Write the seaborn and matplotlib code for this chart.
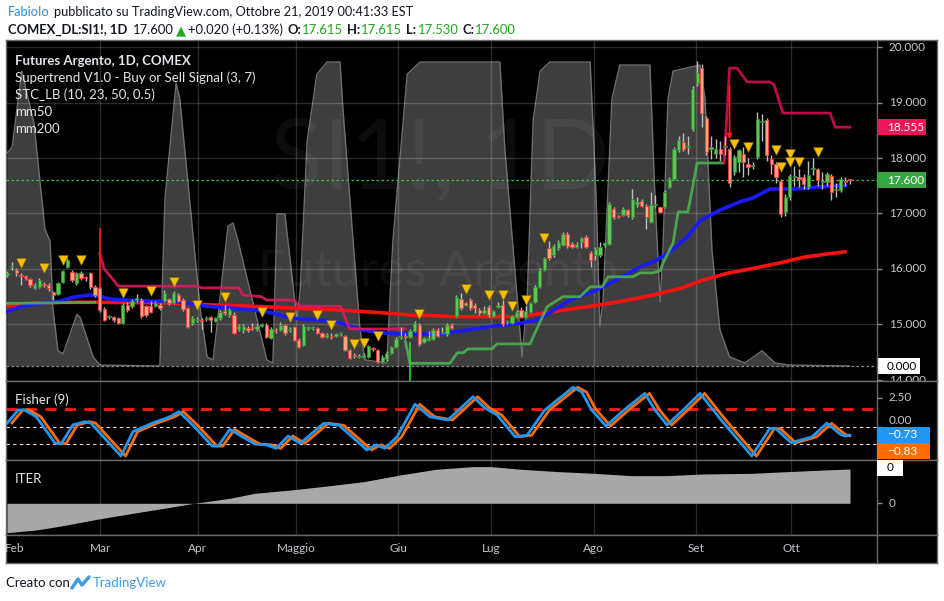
import numpy as np
import matplotlib
matplotlib.use("Agg")
import matplotlib.pyplot as plt
from matplotlib.patches import Rectangle
import seaborn as sns

# ---------------------------------------------------------------------------
# DATA  (SI1! daily, 31 Jan - 21 Oct 2019)
# ---------------------------------------------------------------------------
opens = [15.89, 16.03, 15.99, 15.89, 15.87, 15.82, 15.66, 15.68, 15.72, 15.71, 15.59, 15.55, 15.77, 16.03, 15.95,
         15.75, 15.92, 15.85, 15.92, 15.68, 15.65, 15.28, 15.13, 15.14, 15.12, 15.03, 15.35, 15.33, 15.45, 15.44,
         15.33, 15.33, 15.33, 15.35, 15.42, 15.46, 15.39, 15.53, 15.45, 15.30, 15.02, 15.08, 15.09, 15.10, 15.13,
         15.07, 15.11, 15.25, 15.17,
         15.18, 14.91, 14.90, 14.94, 14.94, 14.91, 14.98, 14.99, 14.76, 14.89, 14.90, 14.99, 14.90, 14.96, 14.72,
         14.63, 14.93, 14.93, 14.93, 14.85, 14.78, 14.80, 14.80, 14.82, 14.79, 14.54, 14.44, 14.42, 14.42, 14.42,
         14.56, 14.54, 14.33, 14.37, 14.48, 14.59, 14.77, 14.79, 14.77, 14.89, 15.00, 14.68, 14.72, 14.74, 14.90,
         14.84, 14.83,
         14.99, 15.15, 15.46, 15.37, 15.44, 15.35, 15.27, 15.21, 15.32, 15.16, 15.32, 15.36, 15.04, 15.03, 15.14,
         15.26, 15.13, 15.23, 15.41, 15.68, 15.99, 16.37, 16.25, 16.37, 16.43, 16.63, 16.45, 16.40, 16.49, 16.58,
         16.28, 16.26, 16.26, 16.44, 16.45, 17.09, 16.95, 16.97, 17.06, 16.94, 17.18, 17.23, 17.14, 16.85, 17.15,
         17.11, 17.12, 17.48,
         17.63, 18.14, 18.29, 18.19, 18.52, 19.35, 19.63, 18.72, 18.16, 18.08, 18.16, 18.19, 18.16, 17.74, 17.92,
         18.08, 17.89, 17.86, 18.02, 18.64, 18.68, 17.98, 17.89, 17.59, 17.03, 17.30, 17.66, 17.64, 17.65, 17.48,
         17.80, 17.80, 17.56, 17.57, 17.68, 17.42, 17.42, 17.58, 17.615]
highs = [15.97, 16.12, 16.02, 15.93, 15.90, 15.84, 15.74, 15.84, 15.76, 15.74, 15.61, 15.76, 15.99, 16.20, 15.99,
         15.95, 15.96, 15.88, 15.94, 15.72, 15.68, 15.31, 15.18, 15.16, 15.14, 15.38, 15.40, 15.46, 15.55, 15.48,
         15.36, 15.42, 15.42, 15.38, 15.62, 15.48, 15.60, 15.56, 15.47, 15.32, 15.15, 15.14, 15.12, 15.15, 15.16,
         15.13, 15.26, 15.35, 15.29,
         15.22, 15.00, 15.00, 14.97, 15.02, 15.00, 15.03, 15.02, 14.95, 14.93, 15.05, 15.01, 14.96, 14.98, 14.75,
         15.00, 14.97, 14.97, 14.95, 14.87, 14.84, 14.84, 14.85, 14.87, 14.81, 14.56, 14.48, 14.46, 14.49, 14.63,
         14.59, 14.56, 14.45, 14.52, 14.62, 14.78, 14.95, 14.85, 14.92, 15.06, 15.03, 14.78, 14.88, 14.93, 14.93,
         14.96, 15.02,
         15.02, 15.53, 15.57, 15.40, 15.47, 15.38, 15.30, 15.33, 15.35, 15.27, 15.40, 15.45, 15.08, 15.18, 15.27,
         15.31, 15.34, 15.41, 15.71, 16.01, 16.22, 16.50, 16.45, 16.52, 16.66, 16.66, 16.48, 16.48, 16.58, 16.62,
         16.33, 16.40, 16.48, 16.48, 17.21, 17.12, 16.98, 17.11, 17.09, 17.45, 17.30, 17.26, 17.17, 17.38, 17.33,
         17.14, 17.42, 17.66,
         18.20, 18.40, 18.45, 18.40, 19.30, 19.74, 19.70, 18.76, 18.40, 18.35, 18.30, 18.40, 18.20, 18.05, 18.17,
         18.20, 18.00, 17.92, 18.83, 18.80, 18.72, 18.05, 17.92, 17.63, 17.35, 17.72, 17.85, 17.80, 17.72, 17.95,
         18.00, 17.82, 17.75, 17.75, 17.72, 17.55, 17.65, 17.65, 17.615]
lows = [15.85, 15.98, 15.88, 15.71, 15.80, 15.68, 15.64, 15.66, 15.68, 15.60, 15.44, 15.53, 15.75, 16.01, 15.76,
        15.72, 15.80, 15.79, 15.64, 15.50, 15.22, 15.06, 15.10, 15.05, 15.00, 15.01, 15.23, 15.30, 15.41, 15.12,
        15.14, 15.20, 15.31, 15.27, 15.40, 15.36, 15.37, 15.40, 15.25, 14.93, 14.99, 15.04, 14.92, 15.07, 14.87,
        15.05, 15.09, 15.18, 15.14,
        14.83, 14.88, 14.85, 14.87, 14.90, 14.89, 14.95, 14.75, 14.74, 14.85, 14.88, 14.81, 14.86, 14.70, 14.58,
        14.61, 14.90, 14.90, 14.83, 14.75, 14.76, 14.74, 14.78, 14.80, 14.52, 14.37, 14.40, 14.39, 14.40, 14.40,
        14.52, 14.31, 14.31, 14.35, 14.46, 14.57, 14.74, 14.73, 14.75, 14.87, 14.62, 14.66, 14.70, 14.72, 14.77,
        14.82, 14.80,
        14.91, 15.13, 15.26, 15.33, 15.26, 15.20, 15.18, 15.19, 15.14, 15.14, 15.29, 14.98, 15.01, 15.01, 15.12,
        15.12, 15.11, 15.21, 15.39, 15.66, 15.97, 16.16, 16.22, 16.35, 16.41, 16.38, 16.37, 16.38, 16.38, 16.37,
        16.03, 16.17, 16.22, 16.40, 16.43, 16.90, 16.91, 16.95, 16.94, 16.90, 17.12, 17.11, 16.72, 16.82, 17.12,
        17.00, 17.10, 17.46,
        17.60, 18.10, 18.12, 18.08, 18.48, 19.30, 18.55, 18.06, 17.98, 18.00, 17.95, 18.05, 17.48, 17.70, 17.75,
        17.65, 17.70, 17.80, 17.98, 18.30, 17.95, 17.72, 17.55, 16.94, 16.95, 17.25, 17.50, 17.48, 17.45, 17.45,
        17.70, 17.50, 17.45, 17.50, 17.25, 17.30, 17.38, 17.50, 17.53]
closes = [15.92, 16.06, 15.92, 15.87, 15.83, 15.71, 15.71, 15.81, 15.71, 15.65, 15.53, 15.74, 15.96, 16.17, 15.80,
          15.92, 15.83, 15.84, 15.67, 15.54, 15.26, 15.09, 15.15, 15.08, 15.02, 15.35, 15.26, 15.43, 15.47, 15.15,
          15.17, 15.23, 15.39, 15.30, 15.56, 15.39, 15.57, 15.42, 15.28, 14.96, 15.12, 15.08, 15.07, 15.10, 15.08,
          15.11, 15.23, 15.21, 15.26,
          14.85, 14.97, 14.97, 14.90, 14.93, 14.97, 14.99, 14.78, 14.92, 14.88, 15.00, 14.84, 14.90, 14.72, 14.60,
          14.97, 14.93, 14.94, 14.85, 14.77, 14.81, 14.78, 14.82, 14.84, 14.54, 14.39, 14.43, 14.43, 14.45, 14.61,
          14.55, 14.33, 14.42, 14.49, 14.59, 14.74, 14.78, 14.77, 14.89, 15.02, 14.65, 14.75, 14.76, 14.90, 14.79,
          14.87, 14.99,
          14.94, 15.50, 15.29, 15.36, 15.29, 15.29, 15.20, 15.26, 15.17, 15.24, 15.36, 15.01, 15.04, 15.15, 15.23,
          15.14, 15.24, 15.38, 15.68, 15.98, 16.19, 16.19, 16.41, 16.49, 16.63, 16.41, 16.39, 16.45, 16.55, 16.40,
          16.17, 16.36, 16.39, 16.45, 17.18, 16.94, 16.94, 17.08, 16.97, 17.27, 17.18, 17.14, 16.93, 17.15, 17.16,
          17.03, 17.39, 17.63,
          18.16, 18.32, 18.16, 18.19, 19.24, 19.54, 18.81, 18.11, 18.20, 18.17, 18.08, 18.19, 17.55, 18.01, 18.14,
          17.92, 17.83, 17.86, 18.70, 18.64, 18.05, 17.90, 17.65, 16.99, 17.30, 17.68, 17.66, 17.63, 17.54, 17.69,
          17.80, 17.60, 17.56, 17.71, 17.38, 17.42, 17.62, 17.57, 17.60]

# moving averages (bar index, price)
mm50_x = [0, 2.8, 7.1, 11.4, 14.2, 17.9, 20.1, 22.2, 25.9, 30.9, 35.8, 38.9, 43.2, 48.8, 53.1, 56.1, 61.7, 67.6,
          71.9, 76.2, 80.5, 84.8, 89.2, 95.6, 100, 104.9, 110.7, 114.4, 117.9, 121.6, 126.5, 130.8, 136.7, 139.5,
          142.5, 146.8, 149.6, 153.9, 158.2, 161, 164.7, 168.4, 171.8, 175.5, 179.8, 181]
mm50_y = [15.23, 15.32, 15.38, 15.42, 15.49, 15.53, 15.51, 15.46, 15.44, 15.42, 15.42, 15.38, 15.33, 15.29, 15.26,
          15.23, 15.11, 15.08, 15.03, 14.91, 14.85, 14.83, 14.82, 14.85, 14.91, 14.97, 15.02, 15.08, 15.25, 15.44,
          15.59, 15.77, 16.04, 16.13, 16.27, 16.57, 16.87, 17.06, 17.21, 17.28, 17.44, 17.44, 17.45, 17.48, 17.50,
          17.50]
mm200_x = [0, 5.6, 11.5, 20.1, 34.5, 41.7, 52.5, 63.3, 71.9, 81.2, 88.5, 89.2, 96.3, 110.7, 117.9, 125.2, 132.3,
           139.5, 145.3, 150.3, 155.4, 161.1, 166.9, 171.9, 177, 181]
mm200_y = [15.33, 15.38, 15.40, 15.40, 15.39, 15.36, 15.33, 15.29, 15.26, 15.21, 15.16, 15.17, 15.14, 15.14,
           15.23, 15.32, 15.41, 15.53, 15.65, 15.80, 15.92, 16.01, 16.11, 16.21, 16.27, 16.31]

# supertrend segments (bar index, price)
st_up1_x = [0, 19]
st_up1_y = [15.38, 15.40]
st_dn1_x = [20, 21, 23, 24, 41, 42, 50, 51, 55, 56, 62, 63, 72, 74, 86]
st_dn1_y = [16.28, 16.00, 15.80, 15.69, 15.69, 15.66, 15.66, 15.53, 15.50, 15.44, 15.44, 15.33, 15.33, 14.92, 14.92]
st_up2_x = [86, 87, 95.6, 97.2, 98.5, 99.5, 104.7, 105.8, 112.9, 116.6, 120, 123.7, 125.9, 128.5, 129.8, 135.1,
            136.7, 139.5, 141, 141.6, 143.8, 144.9, 147, 149, 154.8]
st_up2_y = [14.70, 14.30, 14.30, 14.49, 14.49, 14.56, 14.56, 14.65, 14.65, 15.32, 15.50, 15.50, 15.68, 15.68, 15.86,
            15.86, 15.93, 15.93, 15.97, 16.10, 16.47, 17.03, 17.03, 17.91, 17.91]
st_dn2_x = [154.8, 156, 157.6, 159.8, 164.7, 165.6, 167.5, 177.7, 178.8, 182]
st_dn2_y = [17.91, 19.62, 19.62, 19.37, 19.37, 19.32, 18.81, 18.81, 18.555, 18.555]

# signal triangles (bar index, price)
sig_x = [3, 8, 12, 16, 25, 31, 36, 41, 47, 55, 61, 67, 70, 75, 77, 80, 89, 99, 104, 107, 109, 112, 116,
         157, 160, 166, 167, 169, 169, 171, 175]
sig_y = [16.05, 15.95, 16.10, 16.10, 15.50, 15.54, 15.71, 15.30, 15.43, 15.17, 15.08, 15.11, 14.93, 14.59, 14.61,
         14.73, 15.13, 15.58, 15.47, 15.48, 15.27, 15.39, 16.49, 18.19, 18.14, 18.08, 17.78, 18.01, 17.86, 17.87,
         18.05]

# STC_LB oscillator (bar index, 0-100)
stc_x = [0, 1.1, 3.2, 5.8, 8.2, 9.3, 9.9, 11, 12.1, 15.1, 15.8, 18.6, 20.1, 33, 34.1, 36.5, 37.3, 41.7, 43.2,
         44.5, 47.7, 48.8, 49.9, 56.1, 57.4, 58.3, 60, 62.6, 63.3, 64.8, 66.9, 69.1, 71.9, 72.5, 76.2, 77.3, 82,
         83.3, 86.4, 89.2, 106.4, 107.5, 111.2, 112.3, 113.6, 115.1, 117.2, 125.9, 127.2, 128, 128.7, 130.6,
         132.3, 138.8, 139.9, 141, 141.6, 142.7, 143.8, 149.6, 150.7, 152.2, 153.9, 156, 159.3, 163, 165.8, 169,
         182]
stc_v = [70, 72, 97, 80, 45, 41, 19, 5, 4, 17, 16, 3, 0.3, 0, 55, 93, 88, 19, 3, 2, 46, 47, 41, 2, 1, 50, 50, 15,
         25, 74, 96, 100, 100, 85, 12, 2, 1, 41, 96, 100, 100, 71, 3, 22, 81, 97, 100, 100, 55, 13, 22, 88, 99, 99,
         55, 21, 38, 88, 97, 99, 88, 38, 12, 3, 1, 5, 1, 0.3, 0]

# Fisher (9): fisher line vertices (bar index, value); trigger is fisher one bar later
fish_x = [0, 2.4, 3.7, 6.3, 10.4, 11.7, 14.2, 16.8, 18.1, 24.6, 27.2, 31.3, 35.2, 37.1, 40.4, 44.3, 45.6, 48.1,
          53.5, 56.1, 58.1, 60.7, 63.3, 68.4, 71.7, 77.7, 79.7, 81.6, 84.2, 88.1, 91.3, 95.2, 100.6, 103.2, 105.8,
          109.7, 112.3, 116.1, 122.2, 124.1, 126.1, 129.3, 133.2, 137.7, 139.9, 142.5, 146.4, 149.6, 154.1,
          160.8, 164.7, 166, 169.3, 173.8, 177, 180, 181, 182]
fish_v = [0.28, 1.43, 1.45, 0.85, -1.46, -1.50, 0.13, 0.42, 0.30, -2.57, -0.45, 0.28, 0.85, 1.29, 0.0, -1.70,
          -1.70, -0.25, -1.52, -1.60, -1.90, -0.83, -1.46, 0.28, 0.10, -2.04, -1.60, -1.90, -0.90, 1.93, 0.85, 0.57,
          2.59, 1.60, 1.00, -0.89, -0.75, 1.43, 3.41, 3.00, 1.50, 0.04, 1.43, 2.88, 1.43, 0.13, 1.60, 2.88, 0.60,
          -2.57, -0.16, -0.20, -1.41, -0.90, 0.28, -0.70, -0.83, -0.73]

# ITER histogram (bar index, value)
iter_x = [0, 6.3, 11.7, 19.4, 27.2, 33.9, 40.4, 48.1, 53.5, 61.3, 69.1, 77.1, 84.8, 92.6, 100.6, 104.5, 111, 119,
          126.7, 134.5, 142.5, 150.3, 160.8, 168.6, 176.4, 182]
iter_v = [-29.4, -26.7, -22.7, -16, -10, -5, 0, 5, 10, 13.3, 17.3, 21.7, 28.3, 34, 36.7, 36.7, 34, 31.7, 30, 27.7,
          27.7, 29.3, 30, 31.7, 33.3, 34.3]

month_names = ["Feb", "Mar", "Apr", "Maggio", "Giu", "Lug", "Ago", "Set", "Ott"]
month_pos = [1.7, 20.1, 41.2, 62.4, 84.4, 104.5, 126.7, 148.7, 169.3]
price_ticks = [14, 15, 16, 17, 18, 19, 20]

# ---------------------------------------------------------------------------
# LAYOUT HELPERS (pixel geometry of the screenshot)
# ---------------------------------------------------------------------------
W, H = 945, 601
SP = 4.632                     # px per bar


def bx(px):
    return (px - 7) / SP


def rect(x0, y0, x1, y1):
    return [x0 / W, 1 - y1 / H, (x1 - x0) / W, (y1 - y0) / H]


XMIN, XMAX, XSEP = bx(6), bx(937), bx(877)
FONT = ["Lato", "DejaVu Sans"]
AXC = "#c3c6cc"
BORDER = "#6a6a6a"

sns.set_theme(style="dark")
plt.rcParams["font.family"] = FONT

fig = plt.figure(figsize=(W / 100, H / 100), dpi=100, facecolor="white")

ax_stc = fig.add_axes(rect(6, 40, 937, 381))
ax_main = fig.add_axes(rect(6, 40, 937, 381))
ax_fish = fig.add_axes(rect(6, 381, 937, 460))
ax_iter = fig.add_axes(rect(6, 460, 937, 535))
ax_time = fig.add_axes(rect(6, 535, 937, 563))

for a in (ax_stc, ax_main, ax_fish, ax_iter, ax_time):
    a.set_xlim(XMIN, XMAX)
    a.set_xticks([])
    a.set_yticks([])
    a.grid(False)
    a.set_facecolor("black")
    for s in a.spines.values():
        s.set_color(BORDER)
        s.set_linewidth(1)
ax_main.patch.set_alpha(0)
for s in ax_stc.spines.values():
    s.set_visible(False)

# y scales matching the screenshot
ax_main.set_ylim(20 - (381 - 47) / 55.5, 20 - (40 - 47) / 55.5)
ax_stc.set_ylim((366 - 381) / 3.04, (366 - 40) / 3.04)
ax_fish.set_ylim((426.5 - 460) / 11.5, (426.5 - 381) / 11.5)
ax_iter.set_ylim(503.3 - 535, 503.3 - 460)
ax_time.set_ylim(0, 1)

GRID = dict(color="white", alpha=0.17, lw=1, zorder=1)

# ---------------------------------------------------------------------------
# STC area + watermark
# ---------------------------------------------------------------------------
ax_stc.fill_between(stc_x, 0, stc_v, color="#3e3e3e", lw=0, zorder=1)
sns.lineplot(x=stc_x, y=stc_v, ax=ax_stc, color="#6e6e6e", lw=1, estimator=None, sort=False, zorder=2)
ax_stc.hlines(0, XMIN, XSEP, color="#8a8a8a", lw=0.9, linestyles=(0, (2, 2)), zorder=2)
ax_stc.text(bx(440), (366 - 162) / 3.04, "SI1!, 1D", ha="center", va="center", fontsize=70,
            color="white", alpha=0.05, zorder=3)
ax_stc.text(bx(438), (366 - 272) / 3.04, "Futures Argento", ha="center", va="center", fontsize=36,
            color="white", alpha=0.05, zorder=3)

# ---------------------------------------------------------------------------
# MAIN PRICE PANEL
# ---------------------------------------------------------------------------
ax_main.hlines(price_ticks[1:], XMIN, XSEP, **GRID)
for a in (ax_main, ax_fish, ax_iter):
    a.vlines(month_pos[1:], *a.get_ylim(), **GRID)
    a.axvline(XSEP, color=BORDER, lw=1, zorder=6)
ax_time.axvline(XSEP, color=BORDER, lw=1)

sns.lineplot(x=mm200_x, y=mm200_y, ax=ax_main, color="#ff1010", lw=2.6, estimator=None, sort=False, zorder=3)
sns.lineplot(x=mm50_x, y=mm50_y, ax=ax_main, color="#1a1aff", lw=2.6, estimator=None, sort=False, zorder=3)
for xs, ys, col in ((st_up1_x, st_up1_y, "#4caf50"), (st_dn1_x, st_dn1_y, "#d81b60"),
                    (st_up2_x, st_up2_y, "#4caf50"), (st_dn2_x, st_dn2_y, "#d0104c")):
    sns.lineplot(x=xs, y=ys, ax=ax_main, color=col, lw=2, estimator=None, sort=False, zorder=3, alpha=0.9)
# supertrend switch marks
ax_main.vlines(20, 15.50, 16.74, color="#ff1a1a", lw=1.2, zorder=3)
ax_main.vlines(87, 13.5, 14.68, color="#22dd22", lw=1.2, zorder=3)
ax_main.annotate("", xy=(156, 18.29), xytext=(156, 19.35),
                 arrowprops=dict(arrowstyle="-|>", color="#ff1a1a", lw=1.2, mutation_scale=7), zorder=3)

o, h, l, c = map(np.array, (opens, highs, lows, closes))
xb = np.arange(len(c))
up = c >= o
body_lo = np.minimum(o, c)
body_h = np.maximum(np.abs(c - o), 0.02)
ax_main.vlines(xb, l, h, color="#bdbdbd", lw=1, zorder=4)
ax_main.bar(xb[up], body_h[up], bottom=body_lo[up], width=0.72, color="#5fc453", edgecolor="#2e8f2e",
            lw=0.6, zorder=5)
ax_main.bar(xb[~up], body_h[~up], bottom=body_lo[~up], width=0.72, color="#ffa582", edgecolor="#f23c3c",
            lw=0.6, zorder=5)
ax_main.scatter(sig_x, np.array(sig_y) + 0.06, marker="v", s=48, color="#f5c000", edgecolor="#a07800",
                lw=0.4, zorder=6)

ax_main.hlines(17.60, XMIN, XSEP, color="#3cc43c", lw=0.9, linestyles=(0, (2, 2)), zorder=3)


def tag(ax, yval, text, fc, tc, ppu, x1=926):
    ax.add_patch(Rectangle((XSEP, yval - 8 / ppu), bx(x1) - XSEP, 16 / ppu, fc=fc, ec="none", zorder=8,
                           clip_on=True))
    ax.text(bx(887), yval, text, color=tc, fontsize=8.5, va="center", ha="left", zorder=9)


for p in price_ticks:
    ax_main.hlines(p, XSEP, bx(882), color="#8a8a8a", lw=1, zorder=7)
    ax_main.text(bx(889), p, f"{p:.3f}", color=AXC, fontsize=8.5, va="center", ha="left", zorder=7,
                 clip_on=True)
tag(ax_main, 18.555, "18.555", "#f0145a", "white", 55.5)
tag(ax_main, 17.600, "17.600", "#35a845", "white", 55.5)
tag(ax_stc, 0, "0.000", "white", "black", 3.04, x1=920)

legend_lines = ["Futures Argento, 1D, COMEX", "Supertrend V1.0 - Buy or Sell Signal (3, 7)",
                "STC_LB (10, 23, 50, 0.5)", "mm50", "mm200"]
for k, s in enumerate(legend_lines):
    fig.text(15 / W, 1 - (61 + 17 * k) / H, s, color="#e3e5ea", fontsize=9.5, va="center", ha="left",
             fontweight="bold" if k == 0 else "normal")

# ---------------------------------------------------------------------------
# FISHER PANEL
# ---------------------------------------------------------------------------
ax_fish.hlines(1.5, XMIN, XSEP, color="#ff1a1a", lw=2, linestyles=(0, (4, 3)), zorder=2)
ax_fish.hlines([0, -1.5], XMIN, XSEP, color="#ffd8d0", lw=0.8, linestyles=(0, (3, 3)), zorder=2)
sns.lineplot(x=np.array(fish_x[:-1]) + 1, y=fish_v[:-1], ax=ax_fish, color="#ff6d00", lw=2,
             estimator=None, sort=False, zorder=3)
sns.lineplot(x=fish_x, y=fish_v, ax=ax_fish, color="#2196f3", lw=2, estimator=None, sort=False, zorder=4)
ax_fish.hlines([2.5, 0], XSEP, bx(882), color="#8a8a8a", lw=1, zorder=7)
ax_fish.text(bx(889), 2.5, "2.50", color=AXC, fontsize=8.5, va="center", ha="left", zorder=7)
ax_fish.text(bx(889), 0.08, "0.00", color=AXC, fontsize=8.5, va="bottom", ha="left", zorder=7)
tag(ax_fish, -0.73, "\u22120.73", "#2196f3", "white", 11.5, x1=930)
tag(ax_fish, -0.73 - 16.5 / 11.5, "\u22120.83", "#ff6d00", "white", 11.5, x1=930)
ax_fish.text(bx(15), (426.5 - 400) / 11.5, "Fisher (9)", color="#e3e5ea", fontsize=9.5, va="center")

# ---------------------------------------------------------------------------
# ITER PANEL
# ---------------------------------------------------------------------------
ax_iter.fill_between(iter_x, 0, iter_v, color="#a8a8a8", lw=0, zorder=2)
ax_iter.hlines(0, XSEP, bx(882), color="#8a8a8a", lw=1, zorder=7)
ax_iter.text(bx(889), 0, "0", color=AXC, fontsize=8.5, va="center", ha="left", zorder=7)
tag(ax_iter, 503.3 - 467.5, "0", "white", "black", 1.0, x1=903)
ax_iter.text(bx(15), 503.3 - 479, "ITER", color="#e3e5ea", fontsize=9.5, va="center")

# ---------------------------------------------------------------------------
# TIME AXIS
# ---------------------------------------------------------------------------
for name, pos in zip(month_names, month_pos):
    ax_time.text(pos, 0.5, name, color=AXC, fontsize=8.5, ha="center", va="center")

# ---------------------------------------------------------------------------
# HEADER / FOOTER
# ---------------------------------------------------------------------------
renderer = fig.canvas.get_renderer()


def text_row(x_px, y_px, parts, size):
    x = x_px
    for s, col, w, gap in parts:
        t = fig.text(x / W, 1 - y_px / H, s, color=col, fontsize=size, fontweight=w, va="center", ha="left")
        x += t.get_window_extent(renderer=renderer).width + gap


text_row(8, 12, [("FabioIo", "#2e8ece", "normal", 4),
                 ("pubblicato su TradingView.com, Ottobre 21, 2019 00:41:33 EST", "#131722", "normal", 0)], 9.2)
text_row(8, 30, [("COMEX_DL:SI1!, 1D", "#131722", "bold", 6), ("17.600", "#131722", "normal", 2),
                 ("\u25b2", "#22a822", "normal", 2), ("+0.020 (+0.13%)", "#131722", "normal", 4),
                 ("O:", "#131722", "bold", 1), ("17.615", "#22a822", "normal", 4),
                 ("H:", "#131722", "bold", 1), ("17.615", "#22a822", "normal", 4),
                 ("L:", "#131722", "bold", 1), ("17.530", "#22a822", "normal", 4),
                 ("C:", "#131722", "bold", 1), ("17.600", "#22a822", "normal", 0)], 9.4)

fig.text(6 / W, 1 - 583 / H, "Creato con", color="#131722", fontsize=9.5, va="center")
fig.lines.append(plt.Line2D([72 / W, 78 / W, 82 / W, 89 / W], [1 - 588 / H, 1 - 579 / H, 1 - 585 / H, 1 - 577 / H],
                            transform=fig.transFigure, color="#3d9be9", lw=2.5))
fig.text(93 / W, 1 - 583 / H, "TradingView", color="#3d9be9", fontsize=9.5, va="center")

fig.savefig("out.png", dpi=100, facecolor="white")
